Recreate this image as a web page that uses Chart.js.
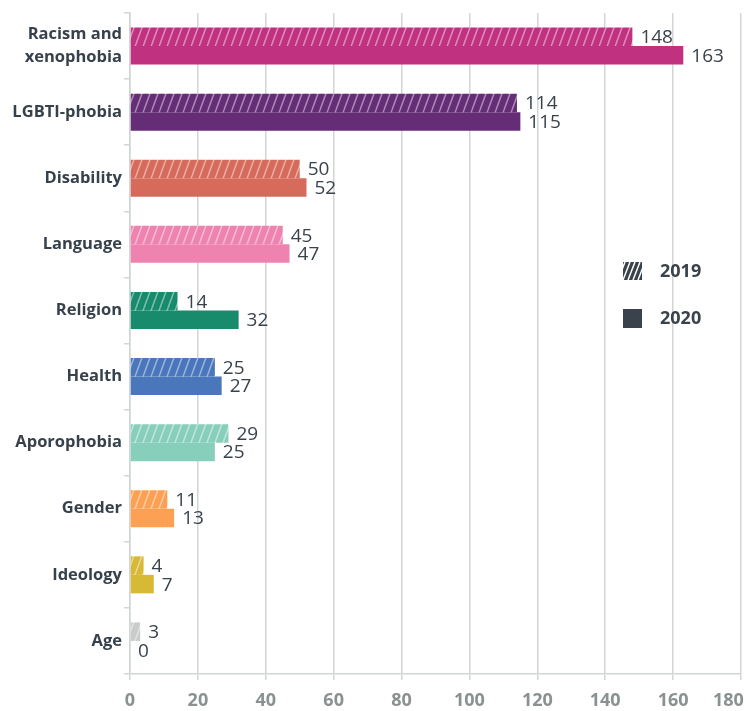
<!DOCTYPE html>
<html><head><meta charset="utf-8">
<script src="https://cdn.jsdelivr.net/npm/chart.js@4/dist/chart.umd.min.js"></script>
<style>html,body{margin:0;padding:0;background:#fff}#wrap{width:749px;height:711px;position:relative}</style>
</head><body><div id="wrap"><canvas id="c" width="749" height="711"></canvas></div>
<script>
const categories = [["Racism and","xenophobia"],"LGBTI-phobia","Disability","Language","Religion","Health","Aporophobia","Gender","Ideology","Age"];
const values2019 = [148,114,50,45,14,25,29,11,4,3];
const values2020 = [163,115,52,47,32,27,25,13,7,0];
const colors = ["#c0317f","#652d76","#d66b5b","#ef83b0","#178b6c","#4a76bb","#88cfbb","#fca154","#d8b935","#c9cccb"];
const seriesLabels = ["2019","2020"];
const xTicks = [0,20,40,60,80,100,120,140,160,180];
const FONT = "'Open Sans', sans-serif";

function hatch(color){
  const w=8, h=22, c=document.createElement('canvas'); c.width=w; c.height=h;
  const g=c.getContext('2d');
  g.fillStyle=color; g.fillRect(0,0,w,h);
  g.strokeStyle='rgba(255,255,255,0.45)'; g.lineWidth=1.5;
  g.beginPath();
  for(let k=-1;k<=1;k++){ g.moveTo(k*w, h); g.lineTo(k*w+w, 0); }
  g.stroke();
  return document.getElementById('c').getContext('2d').createPattern(c,'repeat');
}

const labelPlugin={id:'vals',afterDatasetsDraw(chart){
  const ctx=chart.ctx; ctx.save();
  ctx.font='19px '+FONT; ctx.fillStyle='#3a434b'; ctx.textBaseline='middle'; ctx.textAlign='left';
  chart.data.datasets.forEach((ds,i)=>{
    chart.getDatasetMeta(i).data.forEach((bar,j)=>{
      ctx.fillText(String(ds.data[j]), bar.x+8, bar.y+1);
    });
  });
  ctx.restore();
}};
const legendPlugin={id:'lg',afterDraw(chart){
  const ctx=chart.ctx, a=chart.chartArea; ctx.save();
  const x=a.right-118;
  let y=a.top+249;
  ctx.save();
  ctx.beginPath(); ctx.rect(x,y,19,18); ctx.clip();
  ctx.fillStyle='#3a434b'; ctx.fillRect(x,y,19,18);
  ctx.strokeStyle='#ffffff'; ctx.lineWidth=1.5;
  ctx.beginPath();
  for(let k=-2;k<6;k++){ const bx=x+k*5; ctx.moveTo(bx,y+18); ctx.lineTo(bx+7,y); }
  ctx.stroke();
  ctx.restore();
  ctx.fillStyle='#3a434b'; ctx.font='bold 18px '+FONT; ctx.textBaseline='middle'; ctx.textAlign='left';
  ctx.fillText(seriesLabels[0], x+37, y+10);
  y=a.top+296;
  ctx.fillRect(x,y,19,19);
  ctx.fillText(seriesLabels[1], x+37, y+10);
  ctx.restore();
}};

new Chart(document.getElementById('c'),{
  type:'bar',
  data:{labels:categories,datasets:[
    {label:seriesLabels[0],data:values2019,backgroundColor:colors.map(hatch)},
    {label:seriesLabels[1],data:values2020,backgroundColor:colors}
  ]},
  options:{
    indexAxis:'y',responsive:false,animation:false,
    layout:{padding:{top:13,right:8,left:0,bottom:0}},
    datasets:{bar:{categoryPercentage:0.56,barPercentage:1.0}},
    plugins:{legend:{display:false},tooltip:{enabled:false}},
    scales:{
      x:{min:0,max:180,afterBuildTicks(s){s.ticks=xTicks.map(v=>({value:v}));},
        grid:{color:'#cfd6d4',lineWidth:1.5,tickLength:6},
        border:{color:'#cfd6d4',width:1.5},
        ticks:{color:'#8b9191',font:{family:FONT,size:18,weight:'bold'},padding:10,maxRotation:0,
          callback:(v,i,t)=> i===t.length-1 ? String(v)+'\u2007\u2007 ' : String(v)},
        afterFit(s){s.height=37; s.paddingLeft=0; s.paddingRight=0;}},
      y:{grid:{drawOnChartArea:false,color:'#cfd6d4',lineWidth:1.5,tickLength:6,offset:true},
        border:{color:'#cfd6d4',width:1.5},
        ticks:{color:'#37414b',font:{family:FONT,size:16.5,weight:'bold',lineHeight:1.4},padding:2},
        afterFit(s){s.width=130; s.paddingTop=0; s.paddingBottom=0;}}
    }
  },
  plugins:[labelPlugin,legendPlugin]
});
</script></body></html>
